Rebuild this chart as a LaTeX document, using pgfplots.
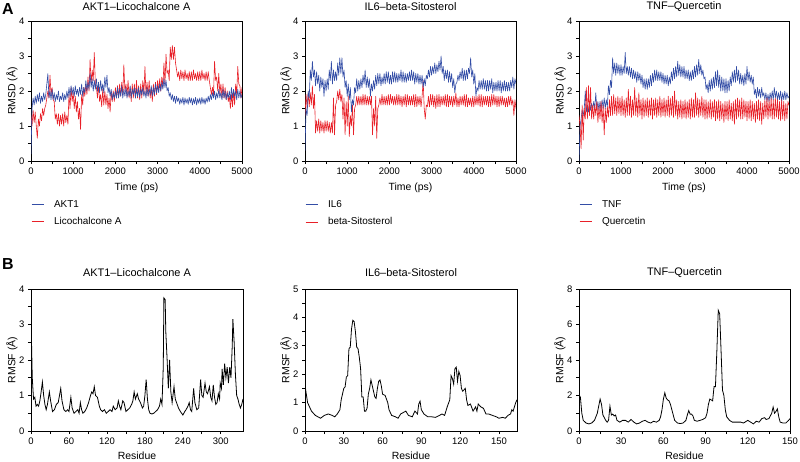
\documentclass[border=0pt]{standalone}
\usepackage{pgfplots}
\pgfplotsset{compat=1.18}
\usepackage{fontspec}
\setmainfont{Liberation Sans}
\definecolor{myblue}{RGB}{51,77,166}
\definecolor{myred}{RGB}{232,32,40}
\pgfplotsset{
  base/.style={
    scale only axis,
    axis line style={line width=0.8bp},
    every tick/.style={line width=0.8bp, black},
    tick align=outside, xtick pos=bottom, ytick pos=left,
    major tick length=3bp, minor tick length=3bp,
    minor tick num=1,
    scaled ticks=false,
    /pgf/number format/1000 sep={},
    /pgf/number format/assume math mode=true,
    tick label style={font=\fontsize{9.5}{11}\selectfont},
    label style={font=\fontsize{10.5}{12}\selectfont},
    title style={font=\fontsize{11}{13}\selectfont, at={(axis description cs:0.5,1)}, anchor=center},
    clip=true,
  },
  top/.style={base, width=211bp, height=140bp, xmin=0, xmax=5000, ymin=0, ymax=4,
    xtick={0,1000,...,5000}, ytick={0,1,2,3,4},
    xlabel={Time (ps)}, ylabel={RMSD (Å)},
    xlabel style={at={(axis description cs:0.5,-0.193)}, anchor=center},
    ylabel style={at={(axis description cs:-0.09,0.5)}, anchor=center},
    title style={yshift=8bp},
    legend style={draw=none, fill=none, at={(axis description cs:0,0)}, anchor=north west,
      yshift=-38bp, xshift=0bp, font=\fontsize{10}{12}\selectfont, row sep=7bp, column sep=9bp,
      inner sep=0pt, nodes={inner sep=1bp}},
    legend cell align=left,
  },
  bot/.style={base, height=142bp, xmin=0,
    xlabel={Residue}, ylabel={RMSF (Å)},
    xlabel style={at={(axis description cs:0.5,-0.172)}, anchor=center},
    ylabel style={at={(axis description cs:-0.09,0.5)}, anchor=center},
    title style={yshift=10bp},
  },
  bseries/.style={draw=myblue, mark=none, line width=0.6bp, line join=round},
  rseries/.style={draw=myred, mark=none, line width=0.6bp, line join=round},
  bleg/.style={legend image code/.code={\draw[draw=myblue, line width=0.9bp] (0bp,0bp) -- (12bp,0bp);}},
  rleg/.style={legend image code/.code={\draw[draw=myred, line width=0.9bp] (0bp,0bp) -- (12bp,0bp);}},
  table/ts/.style={x expr=\coordindex*25, y index=0, row sep=\\},
}
\begin{document}
\begin{tikzpicture}
\useasboundingbox (0bp,0bp) rectangle (800bp,-462bp);
\node[font=\fontsize{16}{18}\selectfont\bfseries, anchor=center] at (8bp,-9bp) {A};
\node[font=\fontsize{16}{18}\selectfont\bfseries, anchor=center] at (8bp,-264bp) {B};

% ---------- A: AKT1 ----------
\begin{axis}[top, at={(31bp,-161bp)}, anchor=south west, title={AKT1--Licochalcone A}]
\addlegendimage{bleg}
\addlegendentry{AKT1}
\addlegendimage{rleg}
\addlegendentry{Licochalcone A}
\addplot[rseries, forget plot] table[ts] {y\\
1.3\\1.0\\1.45\\1.1\\1.4\\1.0\\0.65\\1.2\\1.0\\1.35\\1.15\\1.5\\1.3\\1.5\\1.6\\1.8\\2.0\\1.8\\2.45\\1.9\\
2.1\\1.75\\1.7\\1.2\\1.35\\1.05\\1.35\\1.0\\1.3\\1.05\\1.35\\1.0\\1.4\\1.1\\1.3\\1.05\\1.9\\1.5\\2.1\\1.7\\
1.95\\1.5\\1.85\\1.4\\1.7\\1.2\\1.5\\0.9\\1.9\\1.6\\2.1\\1.85\\2.2\\1.9\\2.4\\2.0\\2.9\\2.2\\2.6\\2.3\\
3.1\\2.2\\2.1\\1.8\\2.2\\1.7\\1.9\\1.55\\2.05\\1.6\\2.0\\1.6\\1.9\\1.5\\1.8\\1.4\\2.0\\1.7\\2.0\\1.7\\
2.1\\1.8\\2.15\\1.8\\2.2\\1.85\\2.25\\1.9\\2.75\\2.0\\2.2\\1.85\\2.3\\1.8\\2.1\\1.7\\2.2\\1.8\\2.2\\1.8\\
2.3\\1.8\\2.15\\1.75\\2.2\\1.8\\2.3\\1.9\\2.7\\1.9\\2.25\\1.85\\2.3\\1.8\\2.1\\1.7\\2.2\\1.85\\2.25\\1.9\\
2.3\\2.0\\2.35\\2.0\\2.4\\2.1\\2.8\\2.2\\3.05\\2.5\\2.6\\2.3\\3.25\\2.9\\3.3\\2.9\\3.25\\2.8\\2.6\\2.4\\
2.55\\2.3\\2.6\\2.35\\2.55\\2.3\\2.6\\2.35\\2.5\\2.3\\2.55\\2.3\\2.55\\2.3\\2.6\\2.35\\2.5\\2.3\\2.55\\2.3\\
2.55\\2.3\\2.6\\2.35\\2.5\\2.3\\2.55\\2.3\\2.55\\2.3\\2.1\\1.9\\2.1\\1.9\\2.85\\2.3\\2.4\\2.0\\2.5\\1.9\\
2.2\\1.8\\2.2\\1.8\\2.1\\1.75\\2.0\\1.7\\1.85\\1.5\\1.9\\1.55\\2.0\\1.6\\2.2\\1.9\\2.7\\2.2\\2.15\\1.8\\
2.1\\
};
\addplot[bseries, forget plot] table[ts] {y\\
0.2\\1.5\\1.8\\1.6\\1.85\\1.65\\1.9\\1.7\\1.95\\1.65\\1.85\\1.7\\1.95\\1.75\\1.9\\2.2\\2.5\\1.8\\2.0\\1.75\\
2.05\\1.75\\1.95\\1.7\\1.9\\1.75\\2.0\\1.7\\1.85\\1.75\\1.95\\1.7\\1.9\\1.75\\2.0\\1.8\\2.1\\1.85\\2.15\\1.9\\
2.1\\1.85\\2.15\\1.9\\2.05\\1.85\\2.1\\1.9\\2.2\\1.85\\2.1\\1.95\\2.3\\2.0\\2.25\\2.05\\2.5\\2.1\\2.35\\2.0\\
2.3\\2.05\\2.35\\2.0\\2.25\\1.95\\2.3\\2.0\\2.2\\1.95\\2.4\\2.1\\2.45\\1.95\\2.1\\1.85\\2.05\\1.75\\1.95\\1.8\\
2.0\\1.8\\2.1\\1.8\\2.05\\1.85\\2.15\\1.8\\2.05\\1.85\\2.1\\1.8\\2.0\\1.85\\2.15\\1.8\\2.05\\1.9\\2.1\\1.8\\
2.05\\1.85\\2.1\\1.8\\2.05\\1.9\\2.1\\1.85\\2.0\\1.8\\2.1\\1.85\\2.05\\1.9\\2.15\\1.85\\2.1\\1.9\\2.2\\1.95\\
2.15\\1.95\\2.2\\2.0\\2.25\\2.05\\2.35\\2.1\\2.3\\2.0\\2.1\\1.85\\1.95\\1.75\\1.9\\1.7\\1.85\\1.65\\1.85\\1.7\\
1.8\\1.62\\1.78\\1.65\\1.82\\1.6\\1.8\\1.65\\1.78\\1.62\\1.82\\1.66\\1.8\\1.6\\1.78\\1.64\\1.82\\1.6\\1.78\\1.65\\
1.8\\1.62\\1.82\\1.65\\1.78\\1.62\\1.8\\1.68\\1.85\\1.7\\1.9\\1.75\\1.95\\1.8\\2.0\\1.75\\1.95\\1.8\\2.05\\1.8\\
1.95\\1.75\\2.05\\1.8\\2.0\\1.75\\1.95\\1.8\\2.0\\1.75\\2.1\\1.8\\2.05\\1.85\\2.0\\1.75\\2.05\\1.8\\2.0\\1.8\\
1.9\\
};
\end{axis}

% ---------- A: IL6 ----------
\begin{axis}[top, at={(305bp,-161bp)}, anchor=south west, title={IL6--beta-Sitosterol}]
\addlegendimage{bleg}
\addlegendentry{IL6}
\addlegendimage{rleg}
\addlegendentry{beta-Sitosterol}
\addplot[rseries, forget plot] table[ts] {y\\
1.3\\1.9\\1.5\\1.95\\1.55\\1.95\\1.6\\2.15\\1.5\\1.9\\0.8\\1.15\\0.85\\1.2\\0.8\\1.15\\0.85\\1.1\\0.8\\1.15\\
0.85\\1.15\\0.85\\1.1\\0.8\\1.1\\0.8\\1.8\\0.75\\1.6\\1.7\\2.0\\1.75\\2.05\\1.7\\1.9\\1.2\\1.8\\0.75\\1.7\\
1.0\\1.85\\0.7\\1.3\\1.0\\1.6\\0.75\\1.5\\1.6\\1.85\\1.6\\1.85\\1.6\\1.85\\1.6\\1.9\\1.6\\1.9\\1.6\\1.85\\
1.6\\1.85\\1.6\\1.85\\0.75\\1.5\\1.0\\1.85\\0.65\\1.5\\1.6\\1.8\\1.6\\1.9\\1.6\\1.85\\1.6\\1.85\\1.6\\1.9\\
1.6\\1.9\\1.65\\1.85\\1.6\\1.85\\1.6\\1.9\\1.6\\1.9\\1.6\\1.85\\1.55\\1.85\\1.6\\1.9\\1.55\\1.9\\1.6\\1.85\\
1.6\\1.85\\1.6\\1.9\\1.55\\1.9\\1.55\\1.85\\1.6\\1.85\\1.55\\1.85\\2.3\\1.5\\1.2\\1.6\\1.55\\1.85\\1.55\\1.9\\
1.6\\1.9\\1.55\\1.85\\1.5\\1.9\\1.55\\1.9\\1.55\\1.85\\1.6\\1.85\\1.6\\1.9\\1.55\\1.9\\1.55\\1.85\\1.6\\1.85\\
1.55\\1.85\\1.6\\1.95\\1.55\\1.8\\1.55\\1.85\\1.6\\1.85\\1.6\\1.9\\1.55\\1.9\\1.55\\1.8\\1.6\\1.8\\1.55\\1.85\\
1.55\\1.85\\1.6\\1.85\\1.6\\1.9\\1.55\\1.9\\1.55\\1.85\\1.6\\1.85\\1.6\\1.85\\1.55\\1.85\\1.55\\1.9\\1.6\\1.9\\
1.6\\1.85\\1.55\\1.85\\1.55\\1.85\\1.6\\1.85\\1.6\\1.8\\1.55\\1.8\\1.55\\1.85\\1.6\\1.85\\1.6\\1.75\\1.3\\1.75\\
1.5\\
};
\addplot[bseries, forget plot] table[ts] {y\\
0.3\\1.5\\1.3\\2.0\\1.8\\2.6\\2.3\\2.85\\2.4\\2.6\\2.15\\2.55\\2.2\\2.45\\2.0\\2.4\\2.1\\2.35\\1.85\\2.3\\
2.0\\2.35\\2.05\\2.6\\2.3\\2.85\\2.2\\2.6\\2.3\\2.55\\2.3\\2.8\\2.45\\2.95\\2.5\\2.95\\2.4\\2.6\\2.1\\2.3\\
1.85\\2.2\\1.75\\2.1\\1.4\\1.75\\1.6\\2.1\\1.95\\2.35\\2.0\\2.3\\2.05\\2.35\\2.1\\2.45\\2.2\\2.6\\2.1\\2.4\\
2.1\\2.35\\1.85\\2.2\\2.0\\2.3\\2.05\\2.45\\2.15\\2.5\\2.2\\2.5\\2.15\\2.4\\2.2\\2.5\\2.2\\2.55\\2.25\\2.55\\
2.2\\2.45\\2.2\\2.55\\2.25\\2.55\\2.25\\2.5\\2.25\\2.5\\2.3\\2.6\\2.25\\2.55\\2.25\\2.5\\2.25\\2.5\\2.3\\2.55\\
2.3\\2.6\\2.3\\2.55\\2.2\\2.5\\2.25\\2.5\\2.2\\2.45\\2.2\\2.45\\2.1\\2.35\\2.15\\2.45\\2.35\\2.6\\2.4\\2.7\\
2.45\\2.7\\2.5\\2.8\\2.5\\2.75\\2.55\\2.85\\2.6\\3.0\\2.5\\2.7\\2.3\\2.6\\2.35\\2.6\\2.25\\2.55\\2.25\\2.5\\
2.1\\2.35\\1.95\\2.2\\2.25\\2.45\\2.3\\2.55\\2.35\\2.65\\2.3\\2.6\\2.3\\2.6\\2.35\\2.65\\2.5\\2.95\\2.4\\2.6\\
2.2\\2.5\\1.85\\2.1\\2.0\\2.3\\2.05\\2.3\\2.05\\2.35\\2.05\\2.3\\2.0\\2.3\\2.0\\2.3\\2.05\\2.35\\1.95\\2.25\\
2.0\\2.25\\2.0\\2.3\\2.0\\2.3\\1.95\\2.25\\2.0\\2.3\\2.0\\2.25\\2.0\\2.25\\2.0\\2.3\\2.1\\2.4\\2.05\\2.35\\
2.2\\
};
\end{axis}

% ---------- A: TNF ----------
\begin{axis}[top, width=210bp, at={(579bp,-161bp)}, anchor=south west, title={TNF--Quercetin}]
\addlegendimage{bleg}
\addlegendentry{TNF}
\addlegendimage{rleg}
\addlegendentry{Quercetin}
\addplot[bseries, forget plot] table[ts] {y\\
0.0\\1.0\\1.2\\1.45\\1.3\\1.5\\2.0\\1.4\\1.6\\1.4\\1.7\\1.45\\1.65\\1.45\\1.7\\1.5\\1.95\\1.45\\1.7\\1.45\\
1.7\\1.45\\1.75\\1.5\\1.8\\1.5\\1.75\\1.55\\2.15\\1.9\\2.3\\2.1\\2.95\\2.5\\2.8\\2.45\\2.8\\2.5\\2.75\\2.45\\
2.75\\2.45\\2.7\\2.5\\3.1\\2.5\\2.7\\2.45\\2.7\\2.4\\2.65\\2.35\\2.6\\2.35\\2.55\\2.25\\2.55\\2.3\\2.5\\2.2\\
2.45\\2.1\\2.35\\2.05\\2.35\\2.05\\2.35\\2.1\\2.45\\2.15\\2.5\\2.25\\2.6\\2.3\\2.6\\2.3\\2.55\\2.3\\2.55\\2.25\\
2.5\\2.2\\2.45\\2.2\\2.45\\2.15\\2.4\\2.2\\2.55\\2.3\\2.65\\2.35\\2.7\\2.4\\2.85\\2.45\\2.75\\2.4\\2.7\\2.4\\
2.7\\2.35\\2.6\\2.35\\2.6\\2.3\\2.55\\2.3\\2.6\\2.35\\2.7\\2.4\\2.75\\2.45\\2.9\\2.5\\2.75\\2.45\\2.6\\2.35\\
2.4\\2.05\\2.2\\1.95\\2.3\\2.0\\2.35\\2.05\\2.4\\2.1\\2.55\\2.15\\2.6\\2.1\\2.45\\2.0\\2.4\\2.0\\2.35\\1.95\\
2.35\\1.95\\2.3\\2.0\\2.4\\2.15\\2.55\\2.25\\2.6\\2.25\\2.7\\2.3\\2.6\\2.2\\2.5\\2.2\\2.45\\2.15\\2.5\\2.2\\
2.7\\2.3\\2.55\\2.25\\2.45\\2.2\\2.4\\1.9\\2.05\\1.8\\2.1\\1.85\\2.05\\1.8\\2.1\\1.85\\1.95\\1.75\\1.95\\1.7\\
1.9\\1.7\\1.95\\1.75\\2.0\\1.75\\2.1\\1.8\\2.0\\1.75\\1.95\\1.75\\2.0\\1.7\\1.95\\1.75\\2.0\\1.75\\1.95\\1.8\\
1.85\\
};
\addplot[rseries, forget plot] table[ts] {y\\
1.3\\1.0\\0.35\\1.6\\0.6\\1.5\\1.2\\2.1\\1.2\\2.15\\1.3\\2.1\\1.2\\1.6\\1.2\\1.6\\1.3\\1.7\\1.1\\1.55\\
1.2\\1.7\\1.1\\1.6\\0.75\\1.5\\1.1\\1.55\\1.25\\1.75\\1.3\\1.85\\1.3\\1.9\\1.35\\1.8\\1.3\\1.85\\1.35\\1.8\\
1.3\\1.85\\1.3\\1.75\\1.25\\1.8\\1.3\\2.05\\1.3\\1.85\\1.25\\1.75\\1.3\\2.1\\1.3\\1.8\\1.25\\1.95\\1.3\\1.75\\
1.2\\1.8\\1.25\\1.75\\1.3\\1.8\\1.25\\1.75\\1.3\\1.8\\1.2\\1.75\\1.3\\1.8\\1.25\\1.75\\1.3\\1.85\\1.25\\1.75\\
1.3\\1.8\\1.25\\1.75\\1.3\\1.85\\1.25\\1.8\\1.3\\1.85\\1.25\\2.0\\1.3\\1.75\\1.2\\1.7\\1.25\\1.75\\1.2\\1.7\\
1.25\\1.75\\1.2\\1.7\\1.25\\1.75\\1.2\\1.8\\1.25\\1.75\\1.25\\1.95\\1.3\\1.8\\1.25\\1.75\\1.3\\1.85\\1.25\\1.75\\
1.2\\1.75\\1.2\\1.7\\1.25\\1.75\\1.2\\1.7\\1.25\\1.75\\1.15\\1.7\\1.2\\1.75\\1.15\\1.7\\1.2\\1.65\\1.1\\1.7\\
1.2\\1.7\\1.15\\1.75\\1.2\\1.65\\1.15\\1.7\\1.05\\1.75\\1.2\\1.8\\1.25\\1.75\\1.2\\1.8\\1.2\\1.75\\1.25\\1.7\\
1.15\\1.7\\1.2\\1.75\\1.15\\1.7\\1.2\\1.65\\1.1\\1.7\\1.2\\1.75\\1.15\\1.7\\1.05\\1.65\\1.2\\1.75\\1.25\\1.8\\
1.2\\1.75\\1.25\\1.8\\1.2\\1.75\\1.2\\1.8\\1.25\\1.75\\1.2\\1.7\\1.15\\1.75\\1.2\\1.7\\1.15\\1.65\\1.2\\1.7\\
1.6\\
};
\end{axis}

% ---------- B: AKT1 RMSF ----------
\begin{axis}[bot, width=212bp, at={(31bp,-431bp)}, anchor=south west, title={AKT1--Licochalcone A},
  xmax=335, ymin=0, ymax=4, xtick={0,60,...,300}, ytick={0,1,2,3,4}]
\addplot[draw=black, mark=none, line width=0.8bp] coordinates {
(0,3.2)(2,1.5)(4,0.9)(6,0.95)(8,0.7)(10,0.75)(12,0.7)(14,0.85)(16,1.1)(18,1.38)(20,1.0)(22,0.75)(24,0.6)(26,0.75)(29,1.1)(31,0.85)(34,0.55)(37,0.6)(40,0.75)(43,0.8)(45,1.0)(47,1.2)(49,0.85)(52,0.6)(55,0.55)(58,0.6)(60,0.55)(63,0.95)(65,0.65)(68,0.5)(71,0.55)(74,0.6)(76,0.5)(78,0.8)(80,0.6)(82,0.5)(85,0.55)(88,0.65)(91,0.8)(94,1.0)(96,1.1)(98,1.05)(100,1.25)(102,1.0)(105,0.95)(108,0.7)(110,0.6)(113,0.55)(116,0.6)(119,0.5)(122,0.55)(125,0.6)(128,0.55)(130,0.7)(133,0.6)(136,0.65)(138,0.85)(140,0.7)(142,0.6)(145,0.85)(147,0.8)(150,0.55)(153,0.6)(156,0.65)(159,0.75)(161,0.85)(163,1.1)(165,0.9)(168,1.05)(170,0.9)(173,0.8)(176,0.65)(178,0.7)(180,1.0)(182,1.45)(184,0.9)(186,0.6)(188,0.5)(191,0.48)(194,0.5)(197,0.55)(200,0.6)(203,0.7)(205,0.9)(207,0.75)(209,1.8)(210,3.75)(212,3.7)(213,2.8)(215,2.05)(217,1.2)(219,2.0)(221,1.1)(223,0.8)(226,1.25)(228,0.9)(230,0.8)(233,0.65)(236,0.55)(238,0.5)(240,0.45)(243,0.55)(245,0.6)(248,0.7)(250,0.8)(252,0.6)(254,0.55)(257,1.2)(259,0.8)(262,0.6)(265,0.65)(268,1.45)(270,1.0)(272,0.95)(275,1.35)(277,1.1)(279,1.05)(282,1.25)(284,0.95)(286,0.85)(288,1.3)(290,0.95)(292,0.75)(294,0.8)(296,1.05)(298,0.9)(299,1.35)(301,1.2)(302,1.75)(304,1.3)(306,1.9)(308,1.5)(310,1.8)(312,1.35)(314,1.8)(316,1.5)(318,2.4)(319,3.15)(321,2.5)(323,1.6)(325,1.0)(327,0.9)(329,0.75)(331,0.65)(333,0.75)(335,0.9)
};
\end{axis}

% ---------- B: IL6 RMSF ----------
\begin{axis}[bot, width=212bp, at={(305bp,-431bp)}, anchor=south west, title={IL6--beta-Sitosterol},
  xmax=164, ymin=0, ymax=5, xtick={0,30,...,150}, ytick={0,1,2,3,4,5}]
\addplot[draw=black, mark=none, line width=0.8bp] coordinates {
(0,1.6)(2,1.0)(5,0.7)(8,0.55)(10,0.5)(12,0.45)(15,0.55)(18,0.6)(21,0.55)(23,0.5)(25,0.6)(27,0.75)(28,1.1)(30,1.5)(31,1.55)(32,1.9)(33,1.95)(34,2.9)(35,2.95)(36,3.6)(37,3.9)(38,3.85)(39,3.5)(40,2.95)(41,2.9)(42,2.6)(43,2.2)(44,1.2)(45,1.2)(46,0.7)(47,0.7)(48,0.8)(49,1.3)(50,1.5)(51,1.8)(52,1.6)(53,1.4)(54,1.2)(55,1.15)(56,1.5)(57,1.75)(58,1.8)(59,1.6)(60,1.3)(62,1.25)(64,1.0)(65,0.75)(67,0.55)(70,0.5)(72,0.45)(74,0.6)(76,0.65)(78,0.7)(80,0.55)(83,0.5)(85,0.7)(87,0.6)(88,0.95)(89,1.05)(90,0.75)(92,0.6)(95,0.5)(98,0.5)(101,0.48)(104,0.55)(106,0.6)(108,0.55)(110,0.85)(112,1.1)(113,1.95)(114,1.85)(115,1.65)(116,2.2)(117,2.25)(118,1.75)(119,2.1)(120,1.95)(121,1.5)(122,1.4)(124,1.5)(125,1.1)(126,0.9)(128,0.95)(130,0.7)(132,0.85)(133,0.7)(134,0.95)(136,0.85)(138,0.8)(140,0.6)(142,0.6)(145,0.55)(148,0.5)(150,0.45)(153,0.48)(155,0.45)(157,0.55)(159,0.6)(160,0.75)(161,0.7)(163,1.0)(164,1.1)
};
\end{axis}

% ---------- B: TNF RMSF ----------
\begin{axis}[bot, width=211bp, at={(579bp,-431bp)}, anchor=south west, title={TNF--Quercetin},
  xmax=150, ymin=0, ymax=8, xtick={0,30,...,150}, ytick={0,2,4,6,8}]
\addplot[draw=black, mark=none, line width=0.8bp] coordinates {
(0,2.05)(1,1.9)(2,1.0)(3,0.6)(5,0.45)(7,0.4)(9,0.45)(11,0.6)(13,1.0)(14,1.4)(15,1.8)(16,1.5)(17,0.9)(19,0.6)(20,0.5)(21,0.6)(22,1.4)(23,0.9)(24,0.95)(25,0.85)(26,0.9)(27,0.6)(29,0.5)(31,0.6)(33,0.6)(35,0.5)(37,0.65)(39,0.5)(41,0.4)(43,0.45)(45,0.55)(47,0.6)(49,0.5)(51,0.45)(53,0.55)(55,0.5)(57,0.6)(58,0.8)(59,1.2)(60,1.8)(61,2.15)(62,1.85)(63,1.75)(64,1.7)(65,1.5)(66,1.2)(67,0.9)(68,0.6)(70,0.45)(72,0.42)(74,0.45)(76,0.6)(77,0.9)(78,1.15)(79,0.95)(80,0.95)(81,0.85)(82,0.6)(84,0.55)(86,0.6)(88,0.65)(90,0.75)(91,1.0)(92,1.5)(93,1.8)(94,1.75)(95,1.7)(96,2.5)(97,2.5)(98,4.5)(99,6.8)(100,6.6)(101,4.5)(102,2.3)(103,2.0)(104,1.2)(105,0.8)(107,0.6)(109,0.5)(112,0.5)(115,0.5)(117,0.45)(120,0.6)(122,0.5)(124,0.4)(126,0.55)(128,0.5)(130,0.7)(132,0.75)(133,0.65)(135,0.7)(137,1.0)(138,1.35)(139,1.0)(140,1.1)(141,1.25)(142,0.8)(143,0.5)(145,0.45)(147,0.45)(149,0.6)(150,0.7)
};
\end{axis}
\end{tikzpicture}
\end{document}
